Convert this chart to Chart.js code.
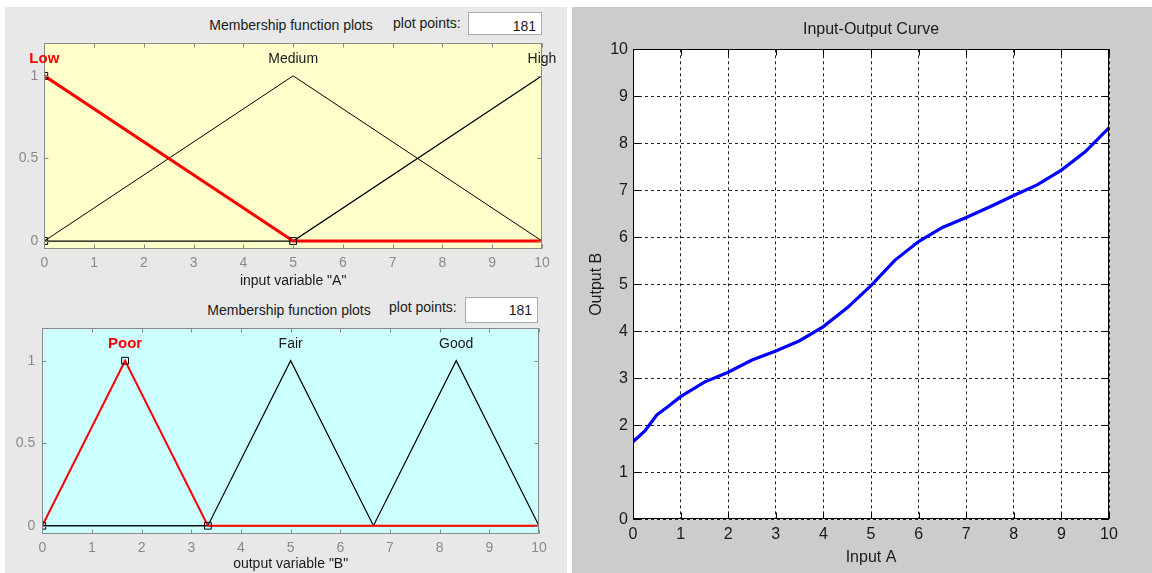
<!DOCTYPE html>
<html><head><meta charset="utf-8">
<script src="https://cdn.jsdelivr.net/npm/chart.js@4.4.1/dist/chart.umd.min.js"></script>
<style>
body{margin:0;width:1152px;height:573px;position:relative;overflow:hidden;background:#fff;font-family:'Liberation Sans',Arial,sans-serif;}
.panel{position:absolute;}
canvas{position:absolute;}
.txt{position:absolute;white-space:nowrap;font-size:14px;color:#1a1a1a;line-height:16px;z-index:2;}
.box{position:absolute;background:#fff;border:1px solid #a9a9a9;box-sizing:border-box;font-size:14px;color:#1a1a1a;text-align:right;padding-right:5px;z-index:2;overflow:hidden;}
</style></head>
<body>
<div class="panel" style="left:5px;top:7px;width:562px;height:566px;background:#e8e8e8"></div>
<div class="panel" style="left:572px;top:7px;width:580px;height:566px;background:#cccccc"></div>

<canvas id="cA" width="560" height="253" style="left:5px;top:37px"></canvas>
<canvas id="cB" width="560" height="253" style="left:5px;top:320px"></canvas>
<canvas id="cIO" width="580" height="566" style="left:572px;top:7px"></canvas>

<div class="txt" style="left:291px;top:17px;transform:translateX(-50%)">Membership function plots</div>
<div class="txt" style="left:393px;top:15px">plot points:</div>
<div class="box" style="left:468px;top:12px;width:74px;height:23px;line-height:26px">181</div>

<div class="txt" style="left:289px;top:302px;transform:translateX(-50%)">Membership function plots</div>
<div class="txt" style="left:389px;top:299px">plot points:</div>
<div class="box" style="left:465px;top:297px;width:73px;height:26px;line-height:25px">181</div>

<script>
// ---------- data ----------
const xTicksMF = [0, 1, 2, 3, 4, 5, 6, 7, 8, 9, 10];
const yTicksMF = [0, 0.5, 1];
const yTickLabelsMF = ['0', '0.5', '1'];

// input variable "A"
const inputMFNames = ['Low', 'Medium', 'High'];
const inputMFPeaks = [0, 5, 10];
const lowX = [0, 5, 10];
const lowY = [1, 0, 0];
const mediumX = [0, 5, 10];
const mediumY = [0, 1, 0];
const highX = [0, 5, 10];
const highY = [0, 0, 1];
const lowVertexX = [0, 0, 5];
const lowVertexY = [1, 0, 0];

// output variable "B"
const outputMFNames = ['Poor', 'Fair', 'Good'];
const outputMFPeaks = [1.667, 5, 8.333];
const poorX = [0, 1.667, 3.333, 10];
const poorY = [0, 1, 0, 0];
const fairX = [0, 3.333, 5, 6.667, 10];
const fairY = [0, 0, 1, 0, 0];
const goodX = [0, 6.667, 8.333, 10];
const goodY = [0, 0, 1, 0];
const poorVertexX = [0, 1.667, 3.333];
const poorVertexY = [0, 1, 0];

// Input-Output curve
const curveX = [0, 0.25, 0.5, 0.75, 1, 1.5, 2, 2.5, 3, 3.5, 4, 4.5, 5, 5.5, 6, 6.5, 7, 7.5, 8, 8.5, 9, 9.5, 10];
const curveY = [1.65, 1.88, 2.22, 2.41, 2.61, 2.92, 3.13, 3.39, 3.58, 3.80, 4.10, 4.50, 4.97, 5.51, 5.91, 6.21, 6.42, 6.65, 6.89, 7.12, 7.43, 7.82, 8.33];
const ioTicks = [0, 1, 2, 3, 4, 5, 6, 7, 8, 9, 10];

// ---------- helpers ----------
const pts = (xs, ys) => xs.map((x, i) => ({x: x, y: ys[i]}));
const SANS = "'Liberation Sans', Arial, sans-serif";
const IOFONT = "'Liberation Sans Narrow', 'Arial Narrow', 'Liberation Sans', Arial, sans-serif";

const bgPlugin = {
  id: 'areaBg',
  beforeDraw(chart, args, o) {
    const c = chart.ctx, r = chart.chartArea;
    c.save(); c.fillStyle = o.color;
    c.fillRect(r.left, r.top, r.right - r.left, r.bottom - r.top);
    c.restore();
  }
};
const framePlugin = {
  id: 'frame',
  afterDatasetsDraw(chart, args, o) {
    const {ctx, chartArea: a, scales: {x, y}} = chart;
    const L = o.len;
    const l = Math.round(a.left) + 0.5, r = Math.round(a.right) - 0.5;
    const t = Math.round(a.top) + 0.5, b = Math.round(a.bottom) - 0.5;
    ctx.save(); ctx.strokeStyle = o.color; ctx.lineWidth = 1; ctx.beginPath();
    x.ticks.forEach(tk => { const p = Math.round(x.getPixelForValue(tk.value)) + 0.5;
      ctx.moveTo(p, t); ctx.lineTo(p, t + L); ctx.moveTo(p, b); ctx.lineTo(p, b - L); });
    y.ticks.forEach(tk => { const p = Math.round(y.getPixelForValue(tk.value)) + 0.5;
      ctx.moveTo(l, p); ctx.lineTo(l + L, p); ctx.moveTo(r, p); ctx.lineTo(r - L, p); });
    ctx.stroke();
    ctx.strokeRect(l, t, r - l, b - t);
    ctx.restore();
  }
};
const labelPlugin = {
  id: 'mfLabels',
  afterDatasetsDraw(chart, args, o) {
    if (!o.names) return;
    const {ctx, scales: {x, y}} = chart;
    ctx.save(); ctx.textAlign = 'center'; ctx.textBaseline = 'middle';
    o.names.forEach((n, i) => {
      const sel = i === o.selected;
      ctx.font = (sel ? 'bold 15px ' : '14px ') + SANS;
      ctx.fillStyle = sel ? '#ff0000' : '#1a1a1a';
      ctx.fillText(n, x.getPixelForValue(o.peaks[i]), y.getPixelForValue(o.y));
    });
    ctx.restore();
  }
};
const noPad = s => { s.paddingTop = 0; s.paddingBottom = 0; s.paddingLeft = 0; s.paddingRight = 0; };

function line(data, color, width) {
  return {data: data, borderColor: color, borderWidth: width, pointRadius: 0, fill: false, tension: 0};
}
function vertices(data) {
  return {data: data, showLine: false, pointStyle: 'rect', pointRadius: 4.8,
    pointBorderColor: '#000', pointBackgroundColor: 'rgba(0,0,0,0)', pointBorderWidth: 1};
}

function mfChart(id, datasets, o) {
  return new Chart(document.getElementById(id), {
    type: 'line',
    data: {datasets: datasets},
    options: {
      responsive: false, animation: false, events: [],
      layout: {padding: o.pad},
      plugins: {
        legend: {display: false}, tooltip: {enabled: false},
        areaBg: {color: o.bg}, frame: {color: '#8a8a8a', len: 4},
        mfLabels: {names: o.names, peaks: o.peaks, selected: 0, y: 1.1}
      },
      scales: {
        x: {type: 'linear', min: 0, max: 10,
          afterBuildTicks: s => { s.ticks = xTicksMF.map(v => ({value: v})); },
          afterFit: s => { s.height = o.xh; noPad(s); },
          grid: {display: false, drawTicks: false}, border: {display: false},
          ticks: {color: '#8a8a8a', font: {size: 14, family: SANS}, padding: 5.5, maxRotation: 0, autoSkip: false},
          title: {display: true, text: o.xtitle, color: '#1a1a1a', font: {size: 14, family: SANS}, padding: 0}},
        y: {type: 'linear', min: -0.05, max: 1.2,
          afterBuildTicks: s => { s.ticks = yTicksMF.map(v => ({value: v})); },
          afterFit: s => { s.width = o.yw; noPad(s); },
          grid: {display: false, drawTicks: false}, border: {display: false},
          ticks: {color: '#8a8a8a', font: {size: 14, family: SANS}, padding: o.ypad, autoSkip: false,
            callback: (v, i) => yTickLabelsMF[i]}}
      }
    },
    plugins: [bgPlugin, framePlugin, labelPlugin]
  });
}

mfChart('cA', [
  vertices(pts(lowVertexX, lowVertexY)),
  line(pts(lowX, lowY), '#ff0000', 3),
  line(pts(mediumX, mediumY), '#000', 1),
  line(pts(highX, highY), '#000', 1.2)
], {pad: {left: 0, top: 5.7, right: 23, bottom: 0}, xh: 40.7, yw: 39.3, ypad: 6,
    bg: '#ffffcc', xtitle: 'input variable "A"', names: inputMFNames, peaks: inputMFPeaks});

mfChart('cB', [
  vertices(pts(poorVertexX, poorVertexY)),
  line(pts(poorX, poorY), '#ff0000', 2),
  line(pts(fairX, fairY), '#000', 1.2),
  line(pts(goodX, goodY), '#000', 1.2)
], {pad: {left: 0, top: 7.7, right: 26, bottom: 0}, xh: 39, yw: 37.3, ypad: 7,
    bg: '#ccffff', xtitle: 'output variable "B"', names: outputMFNames, peaks: outputMFPeaks});

new Chart(document.getElementById('cIO'), {
  type: 'line',
  data: {datasets: [line(pts(curveX, curveY), '#0000ff', 3.2)]},
  options: {
    responsive: false, animation: false, events: [],
    layout: {padding: {left: 15, top: 0, right: 43, bottom: 0}},
    plugins: {
      legend: {display: false}, tooltip: {enabled: false},
      title: {display: true, text: 'Input-Output Curve', fullSize: false, color: '#1a1a1a',
        font: {size: 16, family: IOFONT, weight: 'normal'}, padding: {top: 13.4, bottom: 9.7}},
      areaBg: {color: '#ffffff'}, frame: {color: '#000', len: 6}
    },
    scales: {
      x: {type: 'linear', min: 0, max: 10,
        afterBuildTicks: s => { s.ticks = ioTicks.map(v => ({value: v})); },
        afterFit: s => { s.height = 53.7; },
        grid: {color: '#222', drawTicks: false}, border: {display: false, dash: [3, 3]},
        ticks: {color: '#1a1a1a', font: {size: 16, family: IOFONT}, padding: 6, maxRotation: 0, autoSkip: false},
        title: {display: true, text: 'Input A', color: '#1a1a1a', font: {size: 16, family: IOFONT}, padding: {top: 0, bottom: 5.4}}},
      y: {type: 'linear', min: 0, max: 10,
        afterBuildTicks: s => { s.ticks = ioTicks.map(v => ({value: v})); },
        afterFit: s => { s.width = 46; },
        grid: {color: '#222', drawTicks: false}, border: {display: false, dash: [3, 3]},
        ticks: {color: '#1a1a1a', font: {size: 16, family: IOFONT}, padding: 5, autoSkip: false},
        title: {display: true, text: 'Output B', color: '#1a1a1a', font: {size: 16, family: IOFONT}, padding: {top: 0, bottom: 0}}}
    }
  },
  plugins: [bgPlugin, framePlugin]
});
</script>
</body></html>
